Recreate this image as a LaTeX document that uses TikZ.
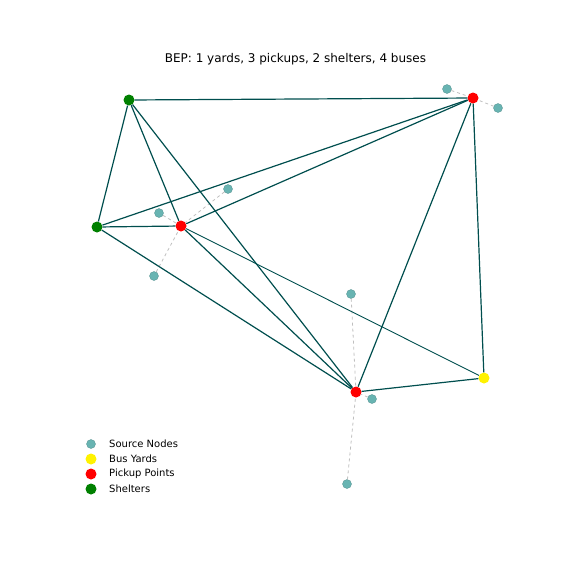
\documentclass[tikz,border=0pt]{standalone}
\usepackage{fontspec}
\setmainfont{DejaVu Sans}
\definecolor{edgeteal}{RGB}{0,78,78}
\definecolor{srcteal}{RGB}{104,180,178}
\definecolor{shelgreen}{RGB}{0,128,0}
\tikzset{
  src/.style={circle,fill=srcteal,draw=srcteal!80!black,line width=.3pt,inner sep=0pt,minimum size=9pt},
  pickup/.style={circle,fill=red,inner sep=0pt,minimum size=11pt},
  yard/.style={circle,fill=yellow,inner sep=0pt,minimum size=11pt},
  shelter/.style={circle,fill=shelgreen,inner sep=0pt,minimum size=11pt},
  route/.style={edgeteal,line width=1.2pt},
  feed/.style={black!25,dashed,line width=.8pt},
  legtext/.style={anchor=west,inner sep=0pt}
}
\begin{document}
\begin{tikzpicture}[x=1pt,y=-1pt]
			\useasboundingbox (0,0) rectangle (576,576);
			\node (title) at (295.5,59){\fontsize{12}{14}\selectfont BEP: 1 yards, 3 pickups, 2 shelters, 4 buses};

			\node[shelter] (S1) at (129,100){};
			\node[shelter] (S2) at (97,227){};
			\node[pickup] (P1) at (473,98){};
			\node[pickup] (P2) at (181,226){};
			\node[pickup] (P3) at (356,392){};
			\node[yard] (Y1) at (484,378){};

				\node[src] (n1) at (447,89){};
				\node[src] (n2) at (498,108){};
				\node[src] (n3) at (228,189){};
				\node[src] (n4) at (159,213){};
				\node[src] (n5) at (154,276){};
				\node[src] (n6) at (351,294){};
				\node[src] (n7) at (372,399){};
				\node[src] (n8) at (347,484){};

				\draw[feed] (n1) to (P1);
				\draw[feed] (n2) to (P1);
				\draw[feed] (n3) to (P2);
				\draw[feed] (n4) to (P2);
				\draw[feed] (n5) to (P2);
				\draw[feed] (n6) to (P3);
				\draw[feed] (n7) to (P3);
				\draw[feed] (n8) to (P3);

			\draw[route] (S1) to (P1);
			\draw[route] (S1) to (S2);
			\draw[route] (S1) to (P2);
			\draw[route] (S1) to (P3);
			\draw[route] (S2) to (P2);
			\draw[route] (S2) to (P1);
			\draw[route] (S2) to (P3);
			\draw[route] (P2) to (P1);
			\draw[route] (P2) to (P3);
			\draw[route,line width=.9pt] (P2) to (Y1);
			\draw[route] (P1) to (P3);
			\draw[route] (P1) to (Y1);
			\draw[route] (P3) to (Y1);

			\node[src] (l1) at (91,444){};
			\node[yard] (l2) at (91,459){};
			\node[pickup] (l3) at (91,474){};
			\node[shelter] (l4) at (91,489){};
			\node[legtext] at (109,444){Source Nodes};
			\node[legtext] at (109,459){Bus Yards};
			\node[legtext] at (109,474){Pickup Points};
			\node[legtext] at (109,489){Shelters};
\end{tikzpicture}
\end{document}
